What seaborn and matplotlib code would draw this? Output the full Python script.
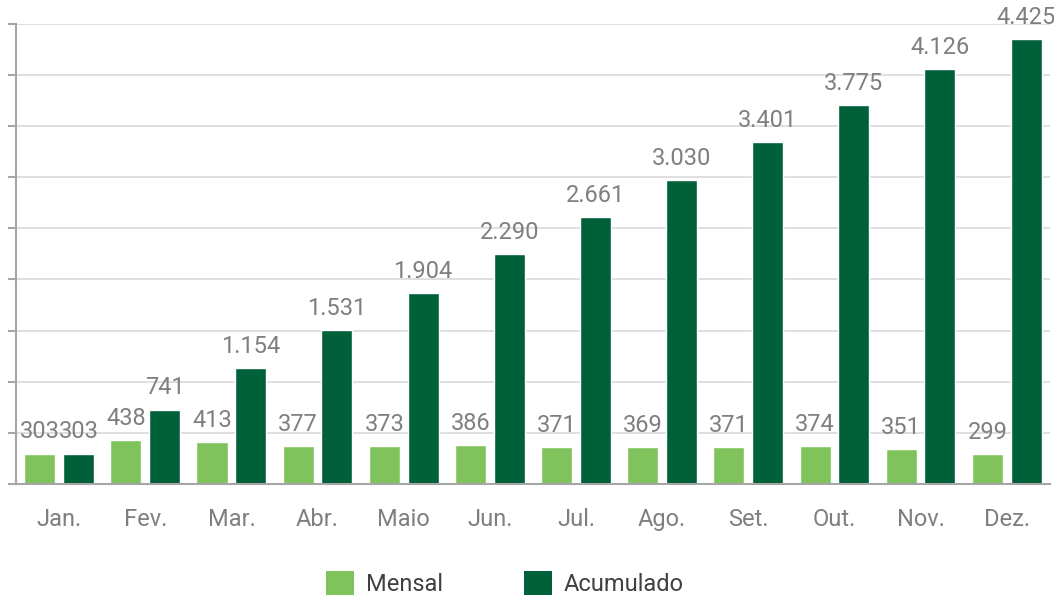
import pandas as pd
import numpy as np
import matplotlib
matplotlib.use("Agg")
import matplotlib.pyplot as plt
import seaborn as sns
from matplotlib.patches import Patch

months = ["Jan.", "Fev.", "Mar.", "Abr.", "Maio", "Jun.", "Jul.", "Ago.", "Set.", "Out.", "Nov.", "Dez."]
mensal = [303, 438, 413, 377, 373, 386, 371, 369, 371, 374, 351, 299]
acumulado = [303, 741, 1154, 1531, 1904, 2290, 2661, 3030, 3401, 3775, 4126, 4425]
series = ["Mensal", "Acumulado"]
colors = ["#80C35D", "#00603A"]

df = pd.DataFrame({
    "mes": months * 2,
    "serie": [series[0]] * len(months) + [series[1]] * len(months),
    "valor": mensal + acumulado,
})

sns.set_style("white")
plt.rcParams["font.family"] = ["Roboto", "DejaVu Sans"]

fig = plt.figure(figsize=(10.54, 5.96), dpi=100)
ax = fig.add_axes([0.0152, 0.188, 0.9808, 0.772])

sns.barplot(data=df, x="mes", y="valor", hue="serie", palette=colors,
            width=0.9, gap=0.2, ax=ax, legend=False, saturation=1)

# value labels
for cont in ax.containers:
    for bar in cont:
        h = bar.get_height()
        txt = f"{int(h):,}".replace(",", ".")
        ax.text(bar.get_x() + bar.get_width() / 2, h + 100, txt,
                ha="center", va="bottom", fontsize=17, color="#7f7f7f",
                clip_on=False)

ymax = 4580
ax.set_xlim(-0.5, 11.5)
ax.set_ylim(0, ymax)
ax.set_yticks(np.linspace(0, ymax, 10))
ax.set_yticklabels([])
ax.yaxis.grid(True, color="#d9d9d9", linewidth=1.2)
ax.set_axisbelow(True)
ax.set_xlabel("")
ax.set_ylabel("")

# ticks between categories
ax.set_xticks(np.arange(-0.5, 12, 1), minor=True)
ax.tick_params(axis="x", which="major", length=0, pad=17, labelsize=17, labelcolor="#7f7f7f")
ax.tick_params(axis="x", which="minor", length=6, width=1.5, color="#a6a6a6", direction="out")
ax.tick_params(axis="y", length=6, width=1.5, color="#a6a6a6", direction="out", left=True)

for side in ["top", "right"]:
    ax.spines[side].set_visible(False)
for side in ["left", "bottom"]:
    ax.spines[side].set_color("#a6a6a6")
    ax.spines[side].set_linewidth(1.5)

handles = [Patch(facecolor=c, edgecolor="none") for c in colors]
fig.legend(handles, series, loc="lower center", bbox_to_anchor=(0.479, -0.035),
           ncol=2, frameon=False, fontsize=17, handlelength=1.2, handleheight=1.2,
           columnspacing=3.4, handletextpad=0.5, labelcolor="#404040")

fig.savefig("out.png", dpi=100)
